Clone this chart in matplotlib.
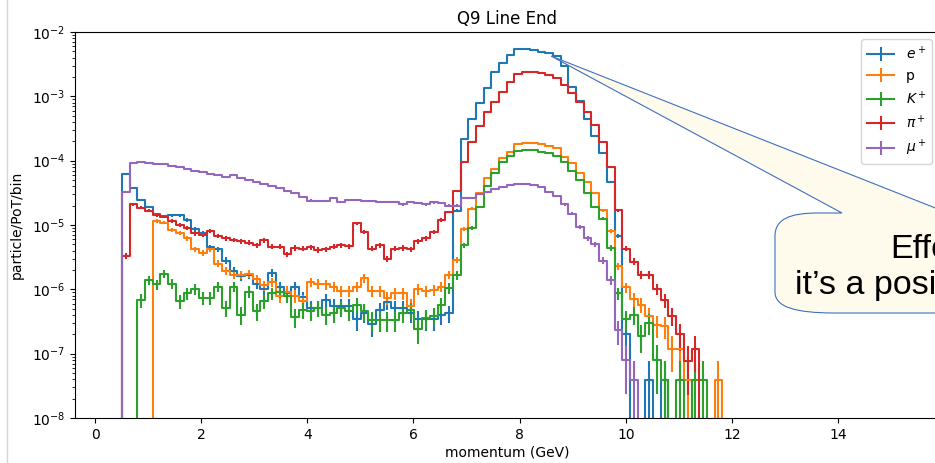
import numpy as np
import matplotlib
matplotlib.use("Agg")
import matplotlib.pyplot as plt
from matplotlib.path import Path
from matplotlib.patches import PathPatch
from matplotlib.lines import Line2D

# ---- data: particle/PoT per momentum bin (bin k centred at k*BIN_WIDTH GeV) ----
BIN_WIDTH = 0.145          # GeV
PER_EVENT = 3.9e-8         # value of a single simulated particle (Poisson errors)

e_plus = [0, 0, 0, 0, 6.2e-5, 3.7e-5, 2.45e-5, 1.9e-5, 1.48e-5, 1.37e-5,
          1.43e-5, 1.43e-5, 1.2e-5, 8.6e-6, 7.6e-6, 4.5e-6, 4.2e-6, 2.8e-6, 1.95e-6, 1.6e-6,
          1.7e-6, 1.23e-6, 1.03e-6, 1.8e-6, 1.1e-6, 8.7e-7, 1.1e-6, 7.5e-7, 5.1e-7, 5.1e-7,
          6.8e-7, 5.5e-7, 5.5e-7, 5.5e-7, 3.4e-7, 4.3e-7, 2.9e-7, 4.8e-7, 6.4e-7, 5.1e-7,
          5.1e-7, 4.3e-7, 3.4e-7, 3.4e-7, 3.4e-7, 4.0e-7, 4.3e-7, 1.68e-5, 2.2e-4, 4.4e-4,
          7.8e-4, 1.33e-3, 2.4e-3, 3.3e-3, 4.4e-3, 5.4e-3, 5.35e-3, 5.3e-3, 4.95e-3, 4.7e-3,
          4.2e-3, 3.0e-3, 1.4e-3, 8.5e-4, 4.4e-4, 2.4e-4, 1.3e-4, 4.7e-5, 6.7e-6, 2.0e-7,
          0, 0, 3.9e-8, 0, 3.9e-8, 0, 0, 0, 0, 0,
          0, 0, 0]

proton = [0, 0, 0, 0, 0, 0, 0, 0, 1.16e-5, 1.09e-5,
          8.4e-6, 7.6e-6, 6.2e-6, 4.2e-6, 3.7e-6, 4.2e-6, 2.5e-6, 1.95e-6, 1.7e-6, 1.7e-6,
          1.75e-6, 1.45e-6, 1.15e-6, 1.3e-6, 8.0e-7, 9.2e-7, 8.0e-7, 6.6e-7, 1.3e-6, 1.23e-6,
          1.2e-6, 1.1e-6, 9.5e-7, 9.5e-7, 1.1e-6, 1.5e-6, 9.5e-7, 9.5e-7, 7.3e-7, 8.7e-7,
          8.7e-7, 5.5e-7, 1.0e-6, 9.5e-7, 9.8e-7, 1.1e-6, 1.7e-6, 2.9e-6, 8.6e-6, 1.8e-5,
          3.1e-5, 5.3e-5, 7.4e-5, 1.1e-4, 1.35e-4, 1.8e-4, 1.86e-4, 1.86e-4, 1.8e-4, 1.7e-4,
          1.56e-4, 1.16e-4, 9.2e-5, 6.4e-5, 4.7e-5, 3.1e-5, 1.7e-5, 8.2e-6, 2.3e-6, 1.07e-6,
          7.0e-7, 5.8e-7, 3.9e-7, 2.8e-7, 2.7e-7, 1.2e-7, 1.2e-7, 3.9e-8, 0, 0,
          0, 3.9e-8, 0]

k_plus = [0, 0, 0, 0, 0, 0, 6.8e-7, 1.4e-6, 1.2e-6, 1.75e-6,
          1.23e-6, 6.5e-7, 8.7e-7, 1.03e-6, 7.3e-7, 7.3e-7, 1.1e-6, 5.1e-7, 1.1e-6, 4.0e-7,
          9.2e-7, 4.6e-7, 6.5e-7, 8.7e-7, 9.2e-7, 7.8e-7, 3.7e-7, 4.8e-7, 4.6e-7, 5.1e-7,
          4.0e-7, 4.3e-7, 5.1e-7, 4.6e-7, 5.8e-7, 4.6e-7, 3.3e-7, 3.3e-7, 3.3e-7, 3.3e-7,
          4.3e-7, 4.8e-7, 2.4e-7, 3.6e-7, 3.9e-7, 5.8e-7, 1.05e-6, 1.65e-6, 4.9e-6, 9.0e-6,
          1.9e-5, 4.0e-5, 6.5e-5, 9.5e-5, 1.2e-4, 1.4e-4, 1.45e-4, 1.45e-4, 1.38e-4, 1.3e-4,
          1.2e-4, 9.5e-5, 7.0e-5, 5.0e-5, 3.2e-5, 1.9e-5, 1.26e-5, 4.4e-6, 8.7e-7, 3.4e-7,
          4.0e-7, 1.9e-7, 3.0e-7, 7.9e-8, 3.9e-8, 0, 3.9e-8, 0, 3.9e-8, 3.9e-8,
          0, 0, 0]

pi_plus = [0, 0, 0, 0, 3.3e-6, 2.1e-5, 1.87e-5, 1.67e-5, 1.43e-5, 1.35e-5,
           1.16e-5, 1.0e-5, 8.9e-6, 7.4e-6, 7.0e-6, 8.1e-6, 6.7e-6, 6.2e-6, 5.9e-6, 5.6e-6,
           5.3e-6, 4.9e-6, 5.8e-6, 4.6e-6, 4.6e-6, 3.5e-6, 4.4e-6, 4.3e-6, 4.5e-6, 4.1e-6,
           4.2e-6, 4.6e-6, 4.9e-6, 4.7e-6, 1.06e-5, 7.9e-6, 4.3e-6, 4.9e-6, 3.0e-6, 4.3e-6,
           4.4e-6, 4.2e-6, 5.6e-6, 6.2e-6, 7.9e-6, 1.2e-5, 1.6e-5, 3.4e-5, 9.6e-5, 1.96e-4,
           3.4e-4, 5.8e-4, 8.3e-4, 1.18e-3, 1.69e-3, 2.2e-3, 2.36e-3, 2.36e-3, 2.27e-3, 2.15e-3,
           1.9e-3, 1.5e-3, 1.11e-3, 8.3e-4, 5.8e-4, 3.6e-4, 1.96e-4, 8.1e-5, 1.7e-5, 4.3e-6,
           2.7e-6, 1.7e-6, 1.7e-6, 1.03e-6, 6.8e-7, 3.9e-7, 2.0e-7, 7.8e-8, 1.2e-7, 0,
           0, 0, 0]

mu_plus = [0, 0, 0, 0, 3.3e-5, 9.3e-5, 9.6e-5, 9.1e-5, 8.9e-5, 8.9e-5,
           8.4e-5, 7.9e-5, 7.5e-5, 7.0e-5, 6.7e-5, 6.2e-5, 6.0e-5, 5.6e-5, 6.0e-5, 5.3e-5,
           5.0e-5, 4.6e-5, 4.4e-5, 4.0e-5, 3.7e-5, 3.4e-5, 3.1e-5, 2.7e-5, 2.4e-5, 2.35e-5,
           2.35e-5, 2.6e-5, 2.3e-5, 2.45e-5, 2.45e-5, 2.35e-5, 2.35e-5, 2.3e-5, 2.3e-5, 2.3e-5,
           2.1e-5, 2.3e-5, 2.2e-5, 2.1e-5, 2.25e-5, 2.2e-5, 2.0e-5, 2.0e-5, 2.6e-5, 2.6e-5,
           3.0e-5, 3.3e-5, 3.6e-5, 3.9e-5, 4.2e-5, 4.4e-5, 4.4e-5, 4.2e-5, 3.9e-5, 3.3e-5,
           2.8e-5, 2.1e-5, 1.5e-5, 9.4e-6, 6.2e-6, 5.0e-6, 2.8e-6, 1.4e-6, 2.3e-7, 7.9e-8,
           3.9e-8, 0, 0, 0, 0, 0, 0, 0, 0, 0,
           0, 0, 0]

labels = [r"$e^+$", "p", r"$K^+$", r"$\pi^+$", r"$\mu^+$"]
series = [e_plus, proton, k_plus, pi_plus, mu_plus]
colors = ["#1f77b4", "#ff7f0e", "#2ca02c", "#d62728", "#9467bd"]

title = "Q9 Line End"
xlabel = "momentum (GeV)"
ylabel = "particle/PoT/bin"
callout_lines = ["Effe", "it\u2019s a posi"]

# ---- figure ----
W, H = 935, 463
fig = plt.figure(figsize=(W / 100, H / 100), dpi=100)
ax = fig.add_axes([75 / W, 45 / H, 864 / W, 386 / H])

for vals, lab, col in zip(series, labels, colors):
    v = np.asarray(vals, dtype=float)
    x = np.arange(len(v)) * BIN_WIDTH
    ax.errorbar(x, v, yerr=np.sqrt(v * PER_EVENT), drawstyle="steps-mid",
                color=col, label=lab, lw=1.5, elinewidth=1.5)

ax.set_yscale("log")
ax.set_ylim(1e-8, 1e-2)
ax.set_xlim(-0.377, 15.9)
ax.set_xticks([0, 2, 4, 6, 8, 10, 12, 14])
ax.set_title(title)
ax.set_xlabel(xlabel, labelpad=3)
ax.set_ylabel(ylabel, labelpad=6)
ax.legend(loc="upper right")


def fp(px, py):
    return (px / W, 1 - py / H)


# thin slide border line on the left
fig.add_artist(Line2D([6.5 / W, 6.5 / W], [0, 1], color="#d4d4d4", lw=1.0,
                      transform=fig.transFigure))

# speech-bubble callout
pts = [
    ((551, 56), Path.MOVETO),
    ((842, 213), Path.LINETO),
    ((818, 213), Path.LINETO),
    ((790, 213), Path.CURVE4),
    ((775, 219), Path.CURVE4),
    ((775, 236), Path.CURVE4),
    ((775, 292), Path.LINETO),
    ((775, 307), Path.CURVE4),
    ((795, 313), Path.CURVE4),
    ((835, 313), Path.CURVE4),
    ((970, 313), Path.LINETO),
    ((970, 213), Path.LINETO),
    ((948, 213), Path.LINETO),
    ((551, 56), Path.CLOSEPOLY),
]
verts = [fp(*p) for p, _ in pts]
codes = [c for _, c in pts]
bubble = PathPatch(Path(verts, codes), facecolor="#fffbec", edgecolor="#3f6fbf",
                   lw=0.8, transform=fig.transFigure, zorder=10)
fig.add_artist(bubble)

fig.text(*fp(890, 258), callout_lines[0], fontsize=24.5, family="Liberation Sans",
         ha="left", va="baseline", color="black", zorder=11)
fig.text(*fp(795, 294), callout_lines[1], fontsize=24.5, family="Liberation Sans",
         ha="left", va="baseline", color="black", zorder=11)

fig.savefig("out.png", dpi=100)
